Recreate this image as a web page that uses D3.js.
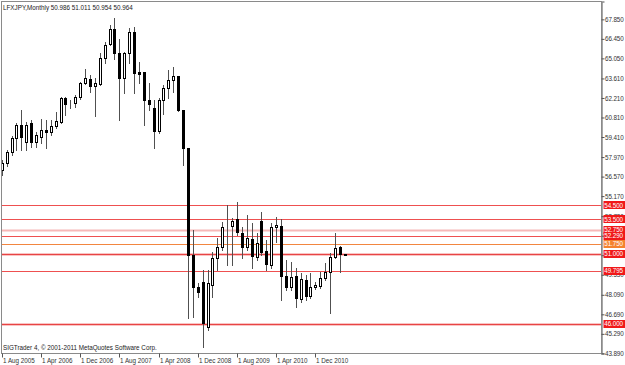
<!DOCTYPE html>
<html>
<head>
<meta charset="utf-8">
<script src="https://cdn.jsdelivr.net/npm/d3@7"></script>
<style>
  body { margin: 0; background: #fff; }
  svg { display: block; }
</style>
</head>
<body>
<svg id="chart" width="625" height="365"></svg>
<script>
// Header text
const symbolName = "LFXJPY,Monthly";
const copyright = "SIGTrader 4, \u00a9 2001-2011 MetaQuotes Software Corp.";

// Monthly bars, Aug 2005 .. Jun 2011 (last one is the live bar)
const firstMonth = new Date(2005, 7, 1);
const opens  = [57.05, 57.55, 58.34, 59.34, 60.28, 59.06, 60.42, 59.06, 59.41, 59.88,
                59.77, 60.20, 60.49, 62.21, 61.85, 61.85, 62.28, 63.29, 63.58, 63.07,
                63.22, 65.08, 66.09, 67.16, 65.44, 63.65, 65.44, 66.95, 64.08, 64.08,
                62.07, 61.49, 59.85, 62.07, 62.93, 63.50, 63.79, 61.35, 58.62, 50.95,
                48.65, 49.01, 45.78, 48.80, 50.73, 51.52, 53.03, 53.03, 53.53, 52.53,
                51.52, 52.10, 50.81, 53.39, 51.24, 50.23, 52.96, 53.03, 49.44, 48.65,
                49.44, 47.79, 49.16, 48.01, 48.65, 48.72, 49.30, 49.73, 50.81, 51.52,
                50.986];
const highs  = [57.76, 58.48, 59.49, 60.42, 61.35, 60.49, 60.63, 59.77, 60.71, 60.63,
                60.63, 61.21, 62.28, 62.28, 62.07, 62.43, 63.36, 64.29, 63.86, 63.65,
                65.44, 66.23, 67.45, 67.95, 66.44, 65.51, 67.23, 67.31, 64.79, 64.08,
                63.29, 62.07, 62.21, 63.14, 64.22, 64.44, 63.79, 61.35, 58.62, 52.74,
                48.94, 49.87, 49.87, 51.16, 52.17, 53.32, 54.54, 53.60, 54.75, 52.96,
                53.82, 53.24, 52.53, 54.03, 52.03, 53.24, 53.67, 53.53, 50.59, 50.45,
                50.02, 49.66, 49.51, 49.66, 49.01, 49.73, 50.38, 51.09, 52.53, 51.59,
                51.011];
const lows   = [56.69, 57.33, 58.12, 58.48, 58.48, 58.48, 58.70, 58.70, 58.98, 58.62,
                59.56, 60.06, 60.42, 60.99, 61.49, 61.57, 62.14, 63.22, 62.64, 60.92,
                63.14, 64.72, 66.01, 65.01, 60.63, 62.57, 64.72, 62.57, 63.29, 60.28,
                61.35, 58.62, 59.70, 61.06, 62.21, 62.64, 61.28, 57.41, 46.43, 46.50,
                47.94, 44.35, 45.57, 47.94, 49.87, 51.31, 50.23, 50.23, 52.38, 50.73,
                51.31, 50.02, 50.59, 50.95, 49.87, 50.02, 51.88, 47.72, 48.44, 48.44,
                47.22, 47.58, 47.72, 47.86, 48.51, 48.58, 49.16, 46.79, 50.73, 49.73,
                50.954];
const closes = [57.55, 58.34, 59.34, 60.28, 59.41, 60.28, 59.06, 59.56, 59.92, 59.77,
                60.20, 60.56, 62.21, 61.78, 61.82, 62.28, 63.29, 63.65, 63.07, 63.29,
                65.08, 66.01, 67.16, 65.44, 63.65, 65.44, 66.95, 64.00, 63.93, 62.07,
                61.78, 59.85, 62.07, 62.93, 63.50, 63.79, 61.35, 58.62, 50.95, 48.65,
                48.29, 46.07, 48.94, 50.73, 51.52, 52.96, 53.00, 53.39, 52.60, 51.52,
                52.17, 50.88, 51.81, 51.16, 50.30, 52.96, 53.10, 49.44, 48.65, 49.37,
                47.86, 49.23, 48.01, 48.65, 48.80, 49.30, 49.73, 50.81, 51.45, 51.02,
                50.964];

// Horizontal levels drawn on the chart
const levels = [54.500, 53.500, 52.750, 52.290, 51.750, 51.000, 49.795, 46.000];

// Axis labels
const yTickLabels = [43.890, 45.290, 46.690, 48.090, 49.530, 50.930, 52.330, 53.730, 55.170,
                     56.570, 57.970, 59.410, 60.810, 62.210, 63.610, 65.050, 66.450, 67.850];
const xTickLabels = ["1 Aug 2005", "1 Apr 2006", "1 Dec 2006", "1 Aug 2007", "1 Apr 2008",
                     "1 Dec 2008", "1 Aug 2009", "1 Apr 2010", "1 Dec 2010"];

const font_family = "'Liberation Sans', Arial, sans-serif";
const font_size = 6.3;

const svg = d3.select("#chart");
const plot = { left: 1.5, top: 1.5, right: 601.5, bottom: 353.5 };

const bars = opens.map((o, i) => ({
  month: d3.timeMonth.offset(firstMonth, i),
  open: o, high: highs[i], low: lows[i], close: closes[i]
}));

// Scales
const x = d3.scaleLinear().domain([0, 70]).range([1.7, 344.7]);
const y = d3.scaleLinear().domain([43.88, 69.13]).range([plot.bottom, plot.top]);
const px = v => Math.round(v) + 0.5;

svg.append("rect")
  .attr("width", 625).attr("height", 365).attr("fill", "#fff");

// Level lines
function levelStyle(v) {
  if (v === 52.75) return { halo: "#f6b8b8", haloW: 2, line: "#f6b8b8", box: "#f01818" };
  if (v === 51.75) return { halo: null, line: "#f28640", box: "#f5822e" };
  if (v === 51.0 || v === 46.0) return { halo: "#f9c4c4", haloW: 3, line: "#e84444", box: "#f01818" };
  return { halo: null, line: "#ee5050", box: "#f01818" };
}

const levelG = svg.append("g").attr("class", "levels");
levels.forEach(v => {
  const s = levelStyle(v);
  const yy = px(y(v));
  if (s.halo) {
    levelG.append("line")
      .attr("x1", plot.left).attr("x2", plot.right)
      .attr("y1", yy).attr("y2", yy)
      .attr("stroke", s.halo).attr("stroke-width", s.haloW);
  }
  levelG.append("line")
    .attr("x1", plot.left).attr("x2", plot.right)
    .attr("y1", yy).attr("y2", yy)
    .attr("stroke", s.line).attr("stroke-width", 1);
});

// Candles
const candle = svg.append("g").attr("class", "candles")
  .selectAll("g")
  .data(bars)
  .enter().append("g");

candle.append("line")
  .attr("x1", (d, i) => px(x(i)))
  .attr("x2", (d, i) => px(x(i)))
  .attr("y1", d => Math.round(y(d.high)))
  .attr("y2", d => Math.round(y(d.low)) + 1)
  .attr("stroke", "#505050")
  .attr("stroke-width", 1);

candle.append("rect")
  .attr("x", (d, i) => px(x(i)) - 1)
  .attr("y", d => Math.round(y(Math.max(d.open, d.close))) + 0.5)
  .attr("width", 2)
  .attr("height", d => Math.max(0, Math.round(y(Math.min(d.open, d.close))) - Math.round(y(Math.max(d.open, d.close)))))
  .attr("fill", d => d.close >= d.open ? "#fff" : "#000")
  .attr("stroke", "#000")
  .attr("stroke-width", 1);

// Frame
svg.append("rect")
  .attr("x", plot.left).attr("y", plot.top)
  .attr("width", plot.right - plot.left).attr("height", plot.bottom - plot.top)
  .attr("fill", "none")
  .attr("stroke", "#8a8a8a")
  .attr("stroke-width", 1);

// Y axis on the right
svg.append("g")
  .attr("class", "y-axis")
  .attr("transform", `translate(${plot.right},0)`)
  .call(d3.axisRight(y).tickValues(yTickLabels).tickFormat(d3.format(".3f")).tickSize(3).tickPadding(0.5))
  .call(g => g.select(".domain").attr("stroke", "#8a8a8a").attr("stroke-width", 1.5))
  .call(g => g.selectAll(".tick line").attr("stroke", "#555"))
  .selectAll("text")
  .attr("fill", "#333")
  .style("font-family", font_family)
  .style("font-size", font_size + "px")
  .style("letter-spacing", "-0.1px");

// Level price boxes
const boxG = svg.append("g").attr("class", "level-boxes");
levels.forEach(v => {
  const s = levelStyle(v);
  const yy = y(v);
  boxG.append("rect")
    .attr("x", 603.5).attr("y", Math.round(yy) - 4)
    .attr("width", 21.5).attr("height", 8)
    .attr("fill", s.box);
  boxG.append("text")
    .attr("x", 604.3).attr("y", yy)
    .attr("dy", "0.35em")
    .attr("fill", "#fff")
    .style("font-family", font_family)
    .style("font-size", font_size + "px")
    .style("letter-spacing", "-0.1px")
    .text(d3.format(".3f")(v));
});

// X axis ticks and labels
const fmt = d3.timeFormat("%-d %b %Y");
const xTicks = xTickLabels.map(lbl => bars.findIndex(b => fmt(b.month) === lbl));
const xAxis = svg.append("g").attr("class", "x-axis");
xTicks.forEach((idx, k) => {
  const xx = px(x(idx));
  xAxis.append("line")
    .attr("x1", xx).attr("x2", xx)
    .attr("y1", plot.bottom).attr("y2", plot.bottom + 4)
    .attr("stroke", "#555");
  xAxis.append("text")
    .attr("x", xx + 0.5).attr("y", 363)
    .attr("fill", "#333")
    .style("font-family", font_family)
    .style("font-size", font_size + "px")
    .text(xTickLabels[k]);
});

// Header and footer text
const last = bars[bars.length - 1];
svg.append("text")
  .attr("x", 3).attr("y", 10)
  .attr("fill", "#222")
  .style("font-family", font_family)
  .style("font-size", font_size + "px")
  .text(`${symbolName}  ${[last.open, last.high, last.low, last.close].map(d3.format(".3f")).join(" ")}`);

svg.append("text")
  .attr("x", 3).attr("y", 350)
  .attr("fill", "#222")
  .style("font-family", font_family)
  .style("font-size", font_size + "px")
  .text(copyright);
</script>
</body>
</html>
